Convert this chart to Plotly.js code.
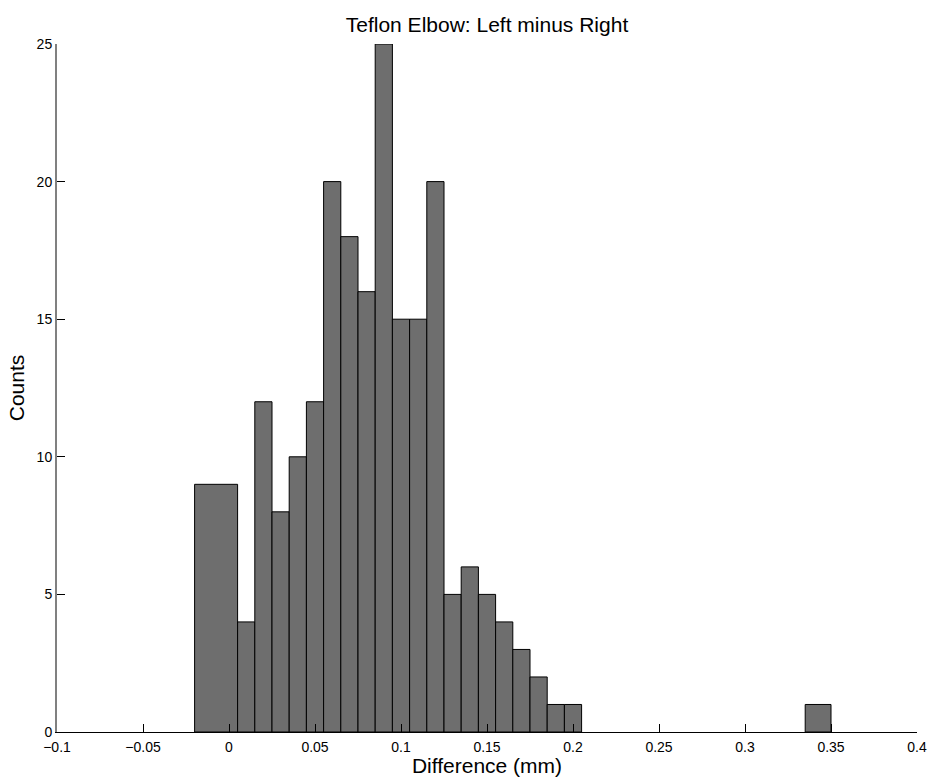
<!DOCTYPE html>
<html>
<head>
<meta charset="utf-8">
<script src="https://cdn.plot.ly/plotly-3.0.1.min.js"></script>
<style>html,body{margin:0;padding:0;background:#fff;}#chart{width:930px;height:777px;}</style>
</head>
<body>
<div id="chart"></div>
<script>
// Histogram bins (left/right edges, mm) and counts
const binLeft  = [-0.02, 0.005, 0.015, 0.025, 0.035, 0.045, 0.055, 0.065, 0.075, 0.085, 0.095, 0.105, 0.115, 0.125, 0.135, 0.145, 0.155, 0.165, 0.175, 0.185, 0.195, 0.335];
const binRight = [0.005, 0.015, 0.025, 0.035, 0.045, 0.055, 0.065, 0.075, 0.085, 0.095, 0.105, 0.115, 0.125, 0.135, 0.145, 0.155, 0.165, 0.175, 0.185, 0.195, 0.205, 0.35];
const counts   = [9, 4, 12, 8, 10, 12, 20, 18, 16, 25, 15, 15, 20, 5, 6, 5, 4, 3, 2, 1, 1, 1];

const xTickVals = [-0.1, -0.05, 0, 0.05, 0.1, 0.15, 0.2, 0.25, 0.3, 0.35, 0.4];
const xTickText = ['\u22120.1', '\u22120.05', '0', '0.05', '0.1', '0.15', '0.2', '0.25', '0.3', '0.35', '0.4'];
const yTickVals = [0, 5, 10, 15, 20, 25];

const centers = binLeft.map((l, i) => (l + binRight[i]) / 2);
const widths = binLeft.map((l, i) => binRight[i] - l);

const font = 'Liberation Sans, Arial, Helvetica, sans-serif';

Plotly.newPlot('chart', [{
  type: 'bar',
  x: centers,
  y: counts,
  width: widths,
  marker: {color: '#6e6e6e', line: {color: '#000', width: 1}},
  hoverinfo: 'x+y'
}], {
  width: 930, height: 777,
  margin: {l: 57, r: 13, t: 44, b: 45},
  paper_bgcolor: '#fff', plot_bgcolor: '#fff',
  showlegend: false,
  font: {family: font, color: '#000', size: 14},
  title: {text: 'Teflon Elbow: Left minus Right', font: {family: font, size: 21, color: '#000'},
          x: 0.5, xref: 'paper', y: 1 - 25/777, yref: 'container', yanchor: 'middle'},
  xaxis: {
    range: [-0.1, 0.4], tickmode: 'array', tickvals: xTickVals, ticktext: xTickText,
    ticks: 'inside', ticklen: 8, tickcolor: '#000', tickwidth: 1,
    showline: true, linecolor: '#000', linewidth: 1,
    showgrid: false, zeroline: false, ticklabelstandoff: 2,
    tickfont: {family: font, size: 14, color: '#000'},
    title: {text: 'Difference (mm)', font: {family: font, size: 21, color: '#000'}, standoff: 0}
  },
  yaxis: {
    range: [0, 25], tickmode: 'array', tickvals: yTickVals,
    ticks: 'inside', ticklen: 8, tickcolor: '#000', tickwidth: 1,
    showline: true, linecolor: '#808080', linewidth: 2,
    showgrid: false, zeroline: false,
    tickfont: {family: font, size: 14, color: '#000'},
    title: {text: 'Counts', font: {family: font, size: 21, color: '#000'}, standoff: 6}
  },
  bargap: 0
}, {displayModeBar: false, staticPlot: true});
</script>
</body>
</html>
